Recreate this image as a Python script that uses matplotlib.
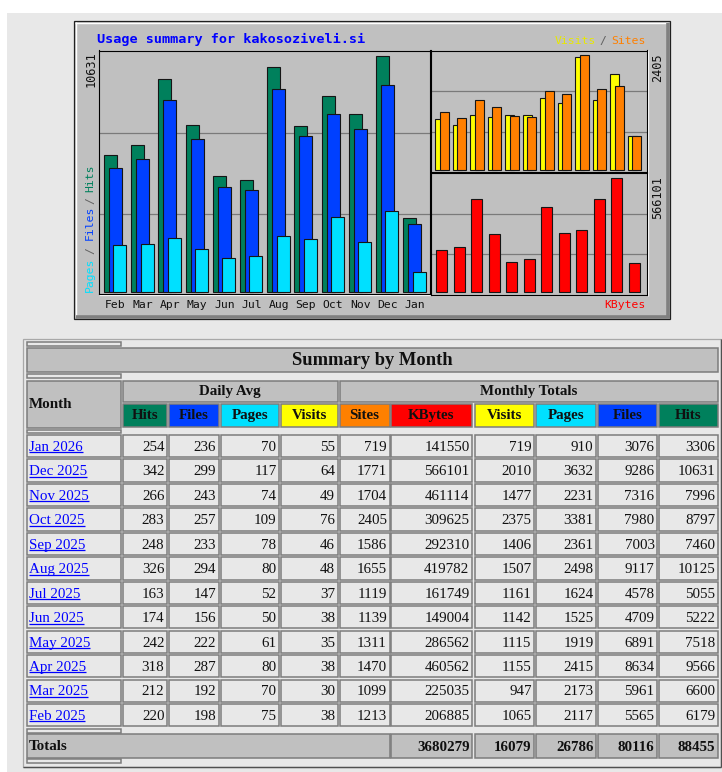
import matplotlib
matplotlib.use('Agg')
import matplotlib.pyplot as plt
from matplotlib.patches import Rectangle

W, H = 722, 772

# monthly figures, chronological (Feb 2025 .. Jan 2026)
months = ['Feb', 'Mar', 'Apr', 'May', 'Jun', 'Jul', 'Aug', 'Sep', 'Oct', 'Nov', 'Dec', 'Jan']
month_names = ['Feb 2025', 'Mar 2025', 'Apr 2025', 'May 2025', 'Jun 2025', 'Jul 2025',
               'Aug 2025', 'Sep 2025', 'Oct 2025', 'Nov 2025', 'Dec 2025', 'Jan 2026']
hits = [6179, 6600, 9566, 7518, 5222, 5055, 10125, 7460, 8797, 7996, 10631, 3306]
files = [5565, 5961, 8634, 6891, 4709, 4578, 9117, 7003, 7980, 7316, 9286, 3076]
pages = [2117, 2173, 2415, 1919, 1525, 1624, 2498, 2361, 3381, 2231, 3632, 910]
visits = [1065, 947, 1155, 1115, 1142, 1161, 1507, 1406, 2375, 1477, 2010, 719]
sites = [1213, 1099, 1470, 1311, 1139, 1119, 1655, 1586, 2405, 1704, 1771, 719]
kbytes = [206885, 225035, 460562, 286562, 149004, 161749, 419782, 292310, 309625, 461114, 566101, 141550]

# daily averages
avg_hits = [220, 212, 318, 242, 174, 163, 326, 248, 283, 266, 342, 254]
avg_files = [198, 192, 287, 222, 156, 147, 294, 233, 257, 243, 299, 236]
avg_pages = [75, 70, 80, 61, 50, 52, 80, 78, 109, 74, 117, 70]
avg_visits = [38, 30, 38, 35, 38, 37, 48, 46, 76, 49, 64, 55]

totals = [3680279, 16079, 26786, 80116, 88455]

C_HITS = '#00805c'
C_FILES = '#0040ff'
C_PAGES = '#00e0ff'
C_VISITS = '#ffff00'
C_SITES = '#ff8000'
C_KB = '#ff0000'
GRAY = '#c0c0c0'
PAGE = '#e8e8e8'
MONO = 'DejaVu Sans Mono'
SERIF = 'Liberation Serif'

fig = plt.figure(figsize=(W / 100, H / 100), dpi=100)
fig.patch.set_facecolor('white')

bg = fig.add_axes([0, 0, 1, 1])
bg.set_xlim(0, W)
bg.set_ylim(H, 0)
bg.axis('off')
bg.add_patch(Rectangle((7, 13), W - 7, H - 13, fc=PAGE, ec='none', zorder=0))


def px_axes(x0, y0, x1, y1):
    return fig.add_axes([x0 / W, 1 - y1 / H, (x1 - x0) / W, (y1 - y0) / H])


def hline(x0, x1, y, c, lw=1.0, z=1):
    bg.plot([x0, x1], [y, y], color=c, lw=lw, zorder=z, solid_capstyle='butt')


def vline(x, y0, y1, c, lw=1.0, z=1):
    bg.plot([x, x], [y0, y1], color=c, lw=lw, zorder=z, solid_capstyle='butt')


# ---- graph panel ----
bg.add_patch(Rectangle((74, 21), 596, 298, fc=GRAY, ec='#202020', lw=0.9, zorder=1))
hline(75, 668, 22.5, 'white', 1.0, 2)
vline(75.5, 22, 317, 'white', 1.0, 2)
hline(76, 669.5, 317, '#808080', 2.6, 2)
vline(668.2, 23, 318, '#808080', 2.6, 2)

ax1 = px_axes(99, 50.5, 429.5, 294)
ax2 = px_axes(431, 50.5, 647, 172)
ax3 = px_axes(431, 173, 647, 294.5)

for ax in (ax1, ax2, ax3):
    ax.set_facecolor(GRAY)
    for s in ax.spines.values():
        s.set_color('black')
        s.set_linewidth(0.8)
    ax.set_yticks([])
    for f in (0.33, 0.663):
        ax.plot([0, 1], [f, f], transform=ax.transAxes, color='#7a7a7a', lw=0.9, zorder=0.5)

hline(99, 648, 295.2, 'white', 0.9, 3)
vline(648, 50, 295.5, 'white', 0.9, 3)

ebar = dict(align='edge', edgecolor='#151515', linewidth=0.8, zorder=2)
x = list(range(len(months)))

ax1.bar([i + 0.184 for i in x], hits, width=0.478, color=C_HITS, **ebar)
ax1.bar([i + 0.368 for i in x], files, width=0.478, color=C_FILES, **ebar)
ax1.bar([i + 0.526 for i in x], pages, width=0.478, color=C_PAGES, **ebar)
ax1.set_xlim(0, 330.5 / 27.2)
ax1.set_ylim(-90, 10856)
ax1.set_xticks([i + 0.607 for i in x])
ax1.set_xticklabels(months, fontfamily=MONO, fontsize=8.2, color='#101010')
ax1.tick_params(axis='x', length=0, pad=4)

ax2.bar([i + 0.246 for i in x], visits, width=0.514, color=C_VISITS, **ebar)
ax2.bar([i + 0.503 for i in x], sites, width=0.514, color=C_SITES, **ebar)
ax2.set_xlim(0, 216 / 17.5)
ax2.set_ylim(-48, 2510)
ax2.set_xticks([])

ax3.bar([i + 0.303 for i in x], kbytes, width=0.629, color=C_KB, **ebar)
ax3.set_xlim(0, 216 / 17.5)
ax3.set_ylim(-13400, 591000)
ax3.set_xticks([])

bg.text(97, 39, 'Usage summary for kakosoziveli.si', color='#0000ff', fontfamily=MONO,
        fontweight='bold', fontsize=9.7, ha='left', va='center', zorder=4)
bg.text(90.7, 51, str(max(hits)), rotation=90, ha='center', va='top',
        fontfamily=MONO, fontsize=8.6, color='#101010', zorder=4)
bg.text(657.5, 53, str(max(sites)), rotation=90, ha='center', va='top',
        fontfamily=MONO, fontsize=8.6, color='#101010', zorder=4)
bg.text(657.5, 176.3, str(max(kbytes)), rotation=90, ha='center', va='top',
        fontfamily=MONO, fontsize=8.6, color='#101010', zorder=4)

for txt, col, yb in [('Pages', C_PAGES, 291.5), ('/', '#606060', 253.5), ('Files', C_FILES, 240),
                     ('/', '#606060', 203.5), ('Hits', C_HITS, 191.5)]:
    bg.text(90, yb, txt, rotation=90, ha='center', va='bottom', color=col,
            fontfamily=MONO, fontsize=8.2, zorder=4)

bg.text(554.3, 41.3, 'Visits', color='#e8e800', fontfamily=MONO, fontsize=8.2, ha='left', va='center', zorder=4)
bg.text(603.3, 41.3, '/', color='#606060', fontfamily=MONO, fontsize=8.2, ha='center', va='center', zorder=4)
bg.text(645.5, 41.3, 'Sites', color=C_SITES, fontfamily=MONO, fontsize=8.2, ha='right', va='center', zorder=4)
bg.text(645.5, 304.7, 'KBytes', color=C_KB, fontfamily=MONO, fontsize=8.2, ha='right', va='center', zorder=4)

# ---- summary table ----
bg.add_patch(Rectangle((23, 339), 698, 428, fc=PAGE, ec='#a8a8a8', lw=0.9, zorder=1))
hline(23, 721, 767, '#505050', 1.0, 2)
vline(721, 339, 767, '#505050', 1.0, 2)


def cell(x0, y0, x1, y1, fc=PAGE):
    bg.add_patch(Rectangle((x0, y0), x1 - x0, y1 - y0, fc=fc, ec='#7c7c7c', lw=1.1, zorder=2))


col_left = [27, 123, 169, 220.5, 281, 339.5, 391, 474.5, 536, 598, 659]
col_right = [121, 167, 218.5, 279, 337.5, 389.5, 472, 534, 596, 657, 718]
hdr_labels = ['Hits', 'Files', 'Pages', 'Visits', 'Sites', 'KBytes', 'Visits', 'Pages', 'Files', 'Hits']
hdr_colors = [C_HITS, C_FILES, C_PAGES, C_VISITS, C_SITES, C_KB, C_VISITS, C_PAGES, C_FILES, C_HITS]

FS = 10.8
bold = dict(fontfamily=SERIF, fontweight='bold', fontsize=FS, color='#101010', zorder=3)
norm = dict(fontfamily=SERIF, fontsize=FS, color='#101010', zorder=3)

for y0, y1 in [(342, 345.7), (374, 378), (429.7, 433), (729.3, 732.5), (759, 762.7)]:
    cell(27, y0, 121, y1)

cell(27, 347.7, 718, 372.3, GRAY)
bg.text(372.5, 360.5, 'Summary by Month', ha='center', va='center',
        fontfamily=SERIF, fontweight='bold', fontsize=13.3, color='#101010', zorder=3)

cell(27, 380.7, 121, 427.5, GRAY)
bg.text(29, 404, 'Month', ha='left', va='center', **bold)
cell(123, 380.7, 337.5, 402.3, GRAY)
bg.text(230, 391.5, 'Daily Avg', ha='center', va='center', **bold)
cell(339.5, 380.7, 718, 402.3, GRAY)
bg.text(529, 391.5, 'Monthly Totals', ha='center', va='center', **bold)

for j, (lab, col) in enumerate(zip(hdr_labels, hdr_colors)):
    cell(col_left[j + 1], 404.3, col_right[j + 1], 427.3, col)
    bg.text((col_left[j + 1] + col_right[j + 1]) / 2, 415.8, lab, ha='center', va='center', **bold)

renderer = fig.canvas.get_renderer()
n = len(months)
for r in range(n):
    k = n - 1 - r
    y0 = 435 + r * 24.45
    y1 = y0 + 22.3
    yc = (y0 + y1) / 2
    for c in range(11):
        cell(col_left[c], y0, col_right[c], y1)
    t = bg.text(29, yc + 4.8, month_names[k], ha='left', va='baseline',
                fontfamily=SERIF, fontsize=FS, color='#0000ff', zorder=3)
    bb = t.get_window_extent(renderer=renderer)
    hline(bb.x0, bb.x1, yc + 6.2, '#0000ff', 0.9, 3)
    row = [avg_hits[k], avg_files[k], avg_pages[k], avg_visits[k],
           sites[k], kbytes[k], visits[k], pages[k], files[k], hits[k]]
    for c, v in enumerate(row):
        bg.text(col_right[c + 1] - 2.5, yc + 4.8, str(v), ha='right', va='baseline', **norm)

cell(27, 734.3, 389.5, 757.7, GRAY)
bg.text(29, 746, 'Totals', ha='left', va='center', **bold)
for j, v in enumerate(totals):
    c = 6 + j
    cell(col_left[c], 734.3, col_right[c], 757.7, GRAY)
    bg.text(col_right[c] - 2.5, 746 + 4.8, str(v), ha='right', va='baseline', **bold)

fig.savefig('out.png', dpi=100, facecolor=fig.get_facecolor())
